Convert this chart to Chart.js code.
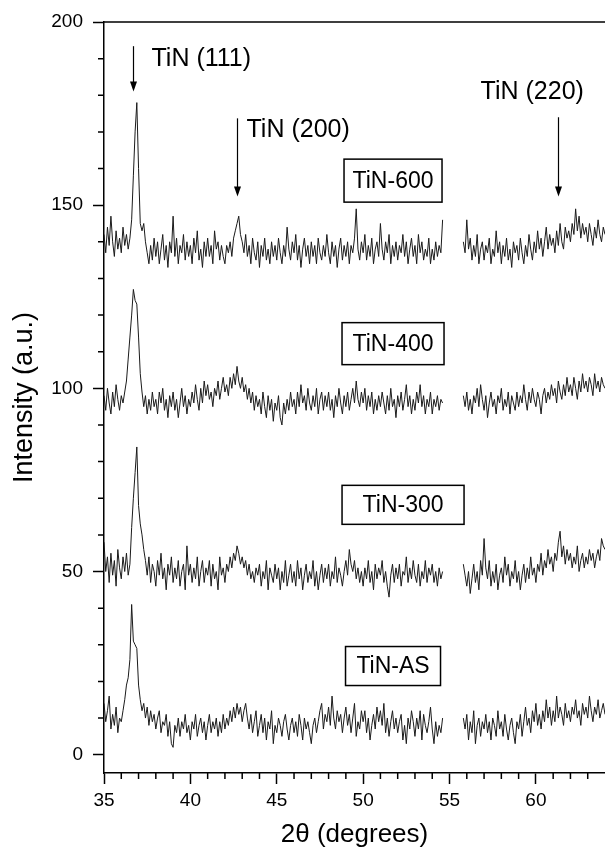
<!DOCTYPE html>
<html>
<head>
<meta charset="utf-8">
<script src="https://cdn.jsdelivr.net/npm/chart.js@4.4.0/dist/chart.umd.min.js"></script>
<style>
  html, body { margin: 0; padding: 0; background: #fff; }
</style>
</head>
<body>
<canvas id="xrdChart" width="605" height="850"></canvas>
<script>
// 2theta scan grid: two segments, the detector skips ~55 deg
const scanStep = 0.1;
const leftStart = 35.0;   // 35.0 .. 54.6
const rightStart = 55.8;  // 55.8 .. 64.0
const gapAt = 55.2;

// intensities (a.u.), one line per degree
const asLeft = [
  14, 9, 12, 16, 7, 11, 8, 13, 6, 10,
  9, 12, 15, 19, 21, 26, 41, 31, 30, 29,
  19, 15, 12, 14, 10, 13, 8, 12, 9, 11,
  7, 10, 12, 6, 9, 8, 11, 5, 9, 3,
  2, 8, 6, 10, 5, 9, 7, 11, 6, 8,
  4, 9, 7, 11, 5, 8, 10, 6, 9, 4,
  8, 11, 6, 9, 7, 10, 5, 9, 6, 11,
  7, 10, 8, 12, 9, 13, 10, 14, 11, 13,
  9, 12, 14, 10, 7, 11, 6, 9, 12, 5,
  8, 11, 6, 10, 4, 9, 7, 12, 3, 8,
  6, 10, 8, 5, 9, 11, 7, 4, 8, 10,
  6, 9, 5, 11, 8, 4, 10, 7, 9, 6,
  3, 8, 10, 6, 9, 12, 14, 7, 11, 9,
  13, 8, 16, 10, 7, 12, 9, 11, 6, 10,
  13, 8, 11, 6, 10, 14, 5, 9, 7, 12,
  9, 12, 6, 10, 4, 8, 11, 7, 13, 9,
  12, 8, 14, 6, 10, 5, 9, 12, 7, 10,
  6, 9, 11, 4, 8, 3, 10, 7, 12, 9,
  5, 10, 7, 12, 4, 11, 8, 6, 9, 13,
  7, 3, 9, 5, 8, 6, 10
];
const asRight = [
  10, 7,
  11, 4, 9, 6, 12, 3, 8, 10, 5, 9,
  7, 11, 6, 9, 4, 10, 8, 5, 12, 7,
  9, 5, 11, 7, 4, 8, 10, 6, 3, 9,
  7, 11, 5, 9, 13, 8, 10, 6, 12, 9,
  14, 8, 11, 7, 12, 9, 15, 10, 13, 8,
  12, 9, 16, 10, 13, 11, 8, 14, 10, 12,
  9, 13, 11, 15, 10, 12, 8, 14, 11, 13,
  10, 16, 12, 9, 13, 11, 15, 10, 12, 14,
  11
];

const t300Left = [
  58, 50, 54, 47, 55, 49, 53, 46, 56, 51,
  48, 54, 50, 55, 49, 52, 62, 70, 77, 84,
  68, 63, 60, 56, 53, 49, 54, 47, 52, 50,
  46, 53, 49, 55, 48, 51, 45, 52, 49, 54,
  47, 51, 48, 53, 46, 50, 52, 45, 57, 49,
  52, 47, 51, 48, 54, 46, 50, 53, 47, 51,
  49, 53, 46, 52, 48, 50, 45, 54, 49, 51,
  47, 52, 50, 54, 51, 55, 53, 57, 55, 52,
  54, 51, 53, 49, 52, 48, 50, 47, 51, 49,
  52, 46, 50, 48, 53, 45, 51, 49, 47, 52,
  48, 51, 45, 50, 47, 53, 46, 49, 52, 47,
  50, 46, 53, 48, 51, 45, 49, 52, 47, 50,
  48, 53, 46, 50, 45, 49, 52, 47, 51, 48,
  52, 46, 50, 48, 54, 47, 51, 49, 46, 50,
  53, 49, 56, 52, 50, 53, 48, 51, 47, 50,
  46, 51, 48, 53, 47, 50, 45, 52, 48, 51,
  49, 53, 47, 50, 46, 43, 49, 52, 47, 51,
  48, 52, 46, 50, 49, 54, 47, 51, 48, 53,
  49, 47, 52, 46, 50, 48, 53, 47, 51, 49,
  52, 47, 50, 46, 51, 48, 50
];
const t300Right = [
  52, 49,
  46, 50, 44, 48, 52, 47, 50, 45, 53, 49,
  59, 51, 48, 53, 46, 50, 47, 52, 45, 49,
  51, 47, 54, 49, 52, 46, 50, 48, 53, 47,
  50, 45, 49, 52, 47, 51, 48, 54, 49, 51,
  47, 52, 50, 55, 49, 53, 51, 56, 52, 54,
  50, 55, 53, 58, 61, 54, 57, 52, 56, 53,
  55, 51, 54, 52, 57, 50, 53, 55, 51, 54,
  52, 56, 53, 55, 51, 54, 56, 53, 59, 57,
  56
];

const t400Left = [
  98, 94, 100, 96, 93, 99, 95, 101, 97, 94,
  98, 96, 99, 102, 108, 114, 120, 127, 124, 123,
  114, 104, 99, 95, 98, 93, 97, 94, 99, 95,
  97, 93, 99, 96, 100, 94, 97, 92, 98, 95,
  99, 94, 97, 92, 96, 100, 95, 98, 93, 97,
  95, 99, 96, 101, 97, 94, 100, 96, 102, 98,
  101, 97, 99, 95, 100, 98, 102, 97, 100, 103,
  99, 101, 98, 103, 100, 104, 101, 106, 102, 100,
  103, 99, 101, 97, 100, 96, 99, 94, 98, 95,
  97, 93, 99, 95, 92, 98, 94, 97, 91, 96,
  94, 98, 92, 90, 96, 93, 97, 94, 99, 95,
  97, 93, 99, 95, 101, 96, 98, 94, 100, 96,
  94, 98, 95, 100, 93, 97, 99, 94, 98, 95,
  99, 94, 97, 92, 98, 95, 100, 96, 93, 98,
  95, 99, 94, 97, 100, 96, 102, 97, 95, 99,
  96, 100, 94, 98, 95, 99, 93, 97, 94, 98,
  95, 99, 96, 93, 98, 94, 100, 95, 97, 92,
  98, 95, 99, 94, 97, 101, 95, 98, 93, 97,
  94, 99, 96, 101, 95, 98, 93, 97, 95, 99,
  93, 97, 95, 98, 94, 97, 96
];
const t400Right = [
  98, 95,
  99, 94, 97, 93, 98, 96, 100, 95, 101, 97,
  94, 98, 92, 96, 99, 95, 97, 93, 98, 96,
  100, 94, 97, 95, 99, 93, 98, 96, 94, 99,
  95, 98, 96, 101, 97, 94, 99, 96, 100, 97,
  95, 99, 97, 93, 98, 100, 96, 99, 97, 101,
  98, 100, 96, 102, 99, 97, 101, 98, 103, 99,
  101, 98, 103, 100, 97, 102, 99, 104, 100, 102,
  99, 103, 101, 98, 104, 100, 102, 99, 103, 101,
  100
];

const t600Left = [
  142, 137, 144, 139, 147, 140, 136, 143, 138, 141,
  137, 144, 139, 142, 138, 141, 146, 158, 170, 178,
  160, 145, 143, 145, 140, 137, 134, 139, 135, 141,
  136, 140, 134, 138, 142, 135, 139, 133, 140, 137,
  147, 136, 141, 134, 139, 137, 142, 135, 140, 136,
  139, 134, 141, 137, 143, 135, 138, 133, 140, 136,
  141, 136, 139, 134, 143, 138, 140, 135, 139, 136,
  134, 139, 137, 140, 136, 141, 143, 145, 147, 142,
  140, 137, 142, 136, 139, 134, 141, 137, 135, 140,
  133, 139, 136, 141, 135, 138, 134, 140, 136, 139,
  135, 141, 137, 134, 139, 136, 144, 138, 135, 140,
  137, 142, 135, 139, 133, 138, 141, 136, 139, 134,
  140, 136, 139, 134, 141, 137, 135, 139, 136, 142,
  137, 134, 140, 136, 139, 133, 138, 141, 135, 139,
  136, 140, 134, 139, 137, 141, 149, 138, 135, 140,
  137, 142, 135, 139, 136, 141, 134, 138, 140, 136,
  145, 138, 135, 140, 137, 142, 134, 139, 136, 140,
  135, 139, 137, 142, 136, 140, 134, 138, 141, 136,
  139, 134, 142, 137, 140, 135, 138, 136, 141, 134,
  138, 135, 140, 136, 139, 137, 146
];
const t600Right = [
  140, 137,
  146, 138, 141, 135, 139, 136, 142, 134, 138, 140,
  135, 139, 137, 141, 134, 138, 136, 143, 137, 140,
  134, 139, 136, 141, 135, 138, 133, 140, 137, 139,
  135, 141, 137, 134, 139, 136, 142, 138, 135, 140,
  137, 143, 138, 141, 136, 140, 144, 138, 142, 139,
  141, 137, 143, 139, 145, 140, 138, 144, 141, 143,
  140, 145, 142, 149, 143, 147, 141, 145, 142, 144,
  140, 145, 142, 139, 144, 141, 146, 142, 140, 144,
  142
];

const xTicks = [35, 40, 45, 50, 55, 60];
const yTicks = [0, 50, 100, 150, 200];

// peak markers and sample boxes (data coordinates)
const peakLabels = [
  { text: 'TiN (111)', arrowX: 36.67, arrowFrom: 193.4, arrowTo: 181, textX: 37.75, textY: 190 },
  { text: 'TiN (200)', arrowX: 42.67, arrowFrom: 173.7, arrowTo: 152.4, textX: 43.25, textY: 170.5 },
  { text: 'TiN (220)', arrowX: 61.26, arrowFrom: 174, arrowTo: 152.4, textX: 56.8, textY: 180.8 }
];
const sampleBoxes = [
  { text: 'TiN-600', x: 51.73, y: 156.7, w: 98, h: 43 },
  { text: 'TiN-400', x: 51.73, y: 112.2, w: 102, h: 42 },
  { text: 'TiN-300', x: 52.31, y: 68.2, w: 122, h: 39 },
  { text: 'TiN-AS', x: 51.73, y: 24.2, w: 95, h: 39 }
];

function buildPoints(leftVals, rightVals) {
  const pts = leftVals.map((v, i) => ({ x: +(leftStart + i * scanStep).toFixed(2), y: v }));
  pts.push({ x: gapAt, y: null });
  rightVals.forEach((v, i) => pts.push({ x: +(rightStart + i * scanStep).toFixed(2), y: v }));
  return pts;
}

const FONT = "'Liberation Sans', Arial, Helvetica, sans-serif";
Chart.defaults.font.family = FONT;
Chart.defaults.color = '#000';

// top frame line, minor ticks, peak arrows and sample boxes
const decorations = {
  id: 'decorations',
  afterDraw(chart) {
    const { ctx, chartArea: a, scales: { x, y } } = chart;
    ctx.save();
    ctx.strokeStyle = '#000';
    ctx.lineWidth = 1.5;
    ctx.beginPath();
    ctx.moveTo(a.left, a.top);
    ctx.lineTo(a.right, a.top);
    for (let v = 36; v < 64; v++) {
      if (v % 5 === 0) continue;
      const px = x.getPixelForValue(v);
      ctx.moveTo(px, a.bottom);
      ctx.lineTo(px, a.bottom + 6);
    }
    for (let v = 10; v < 200; v += 10) {
      if (v % 50 === 0) continue;
      const py = y.getPixelForValue(v);
      ctx.moveTo(a.left, py);
      ctx.lineTo(a.left - 6, py);
    }
    ctx.stroke();

    // peak labels with arrows
    ctx.fillStyle = '#000';
    ctx.textBaseline = 'middle';
    ctx.textAlign = 'left';
    ctx.font = '25px ' + FONT;
    peakLabels.forEach(p => {
      const px = Math.round(x.getPixelForValue(p.arrowX)) + 0.5;
      const y0 = y.getPixelForValue(p.arrowFrom);
      const y1 = y.getPixelForValue(p.arrowTo);
      ctx.lineWidth = 1.2;
      ctx.beginPath();
      ctx.moveTo(px, y0);
      ctx.lineTo(px, y1 - 8);
      ctx.stroke();
      ctx.beginPath();
      ctx.moveTo(px - 3.5, y1 - 10);
      ctx.lineTo(px + 3.5, y1 - 10);
      ctx.lineTo(px, y1);
      ctx.closePath();
      ctx.fill();
      ctx.fillText(p.text, x.getPixelForValue(p.textX), y.getPixelForValue(p.textY));
    });

    // sample name boxes
    ctx.font = '23px ' + FONT;
    ctx.textAlign = 'center';
    ctx.lineWidth = 1.5;
    sampleBoxes.forEach(b => {
      const cx = x.getPixelForValue(b.x);
      const cy = y.getPixelForValue(b.y);
      ctx.strokeRect(cx - b.w / 2, cy - b.h / 2, b.w, b.h);
      ctx.fillText(b.text, cx, cy + 1);
    });
    ctx.restore();
  }
};

function makeSet(label, leftVals, rightVals) {
  return {
    label: label,
    data: buildPoints(leftVals, rightVals),
    borderColor: '#1a1a1a',
    borderWidth: 1,
    pointRadius: 0,
    tension: 0,
    spanGaps: false,
    fill: false
  };
}

new Chart(document.getElementById('xrdChart'), {
  type: 'line',
  data: {
    datasets: [
      makeSet('TiN-AS', asLeft, asRight),
      makeSet('TiN-300', t300Left, t300Right),
      makeSet('TiN-400', t400Left, t400Right),
      makeSet('TiN-600', t600Left, t600Right)
    ]
  },
  options: {
    responsive: false,
    animation: false,
    layout: { padding: { top: 22, right: 0, left: 0, bottom: 0 } },
    plugins: {
      legend: { display: false },
      tooltip: { enabled: false }
    },
    scales: {
      x: {
        type: 'linear',
        min: 35,
        max: 64,
        afterBuildTicks: s => { s.ticks = xTicks.map(v => ({ value: v })); },
        afterFit: s => { s.height = 77; },
        ticks: { font: { size: 19 }, padding: 5, maxRotation: 0 },
        grid: { drawOnChartArea: false, drawTicks: true, tickLength: 11, color: '#000', tickWidth: 1.5 },
        border: { display: true, color: '#000', width: 1.5 },
        title: { display: true, text: '2θ (degrees)', font: { size: 26 }, padding: { top: 0, bottom: 0 } }
      },
      y: {
        min: -5,
        max: 200,
        afterBuildTicks: s => { s.ticks = yTicks.map(v => ({ value: v })); },
        afterFit: s => { s.width = 104; },
        ticks: { font: { size: 19 }, padding: 10 },
        grid: { drawOnChartArea: false, drawTicks: true, tickLength: 11, color: '#000', tickWidth: 1.5 },
        border: { display: true, color: '#000', width: 1.5 },
        title: { display: true, text: 'Intensity (a.u.)', font: { size: 27 }, padding: { top: 8, bottom: 0 } }
      }
    }
  },
  plugins: [decorations]
});
</script>
</body>
</html>
